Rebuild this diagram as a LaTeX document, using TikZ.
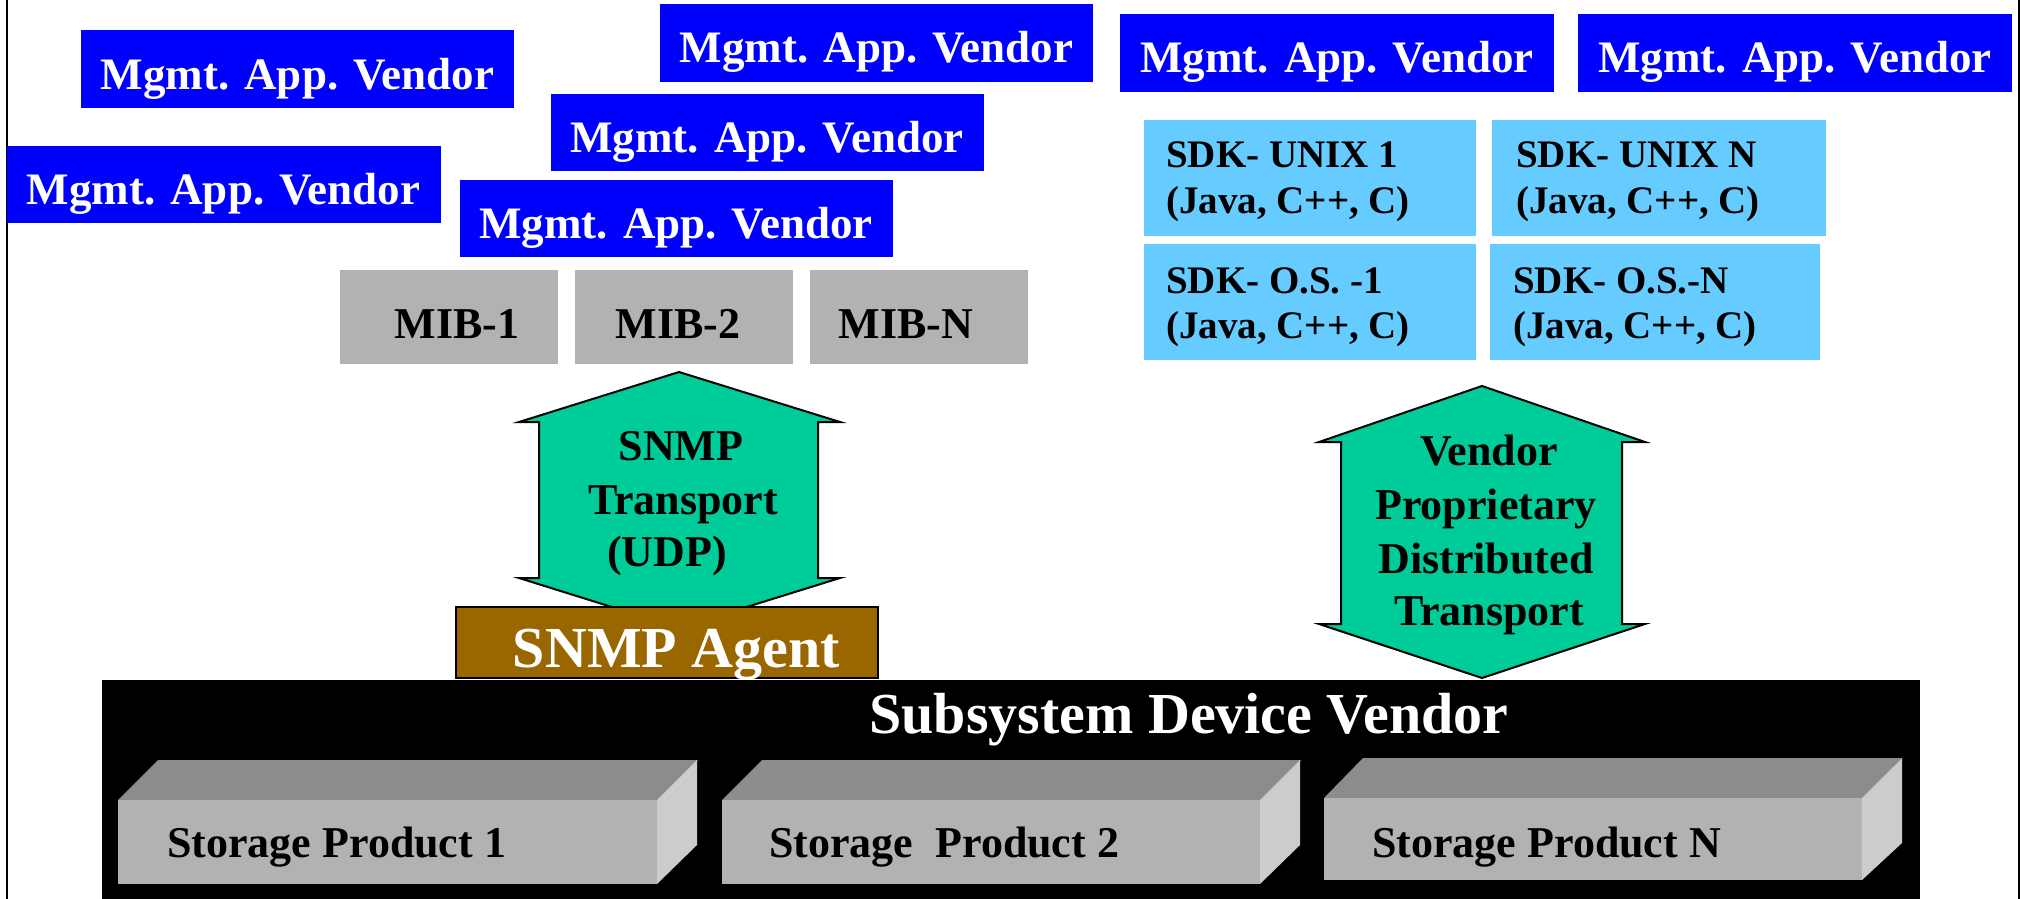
\documentclass[tikz,border=0pt]{standalone}
\usepackage{fontspec}
\setmainfont{Liberation Serif}
\definecolor{mablue}{HTML}{0000FF}
\definecolor{sdkblue}{HTML}{66CCFF}
\definecolor{mibgray}{HTML}{B2B2B2}
\definecolor{topgray}{HTML}{8C8C8C}
\definecolor{sidegray}{HTML}{CCCCCC}
\definecolor{arrowgreen}{HTML}{00CC99}
\definecolor{agentbrown}{HTML}{996600}
\begin{document}
\begin{tikzpicture}[x=1pt,y=-1pt,
  mav/.style={fill=mablue, text=white, inner sep=0pt, minimum width=433pt, minimum height=77pt,
    font=\fontsize{45}{54}\selectfont\bfseries, text height=40pt, text depth=0pt},
  mib/.style={fill=mibgray, text=black, inner sep=0pt, minimum width=218pt, minimum height=94pt,
    font=\fontsize{44}{52}\selectfont\bfseries, text height=42pt, text depth=0pt},
  sdk/.style={fill=sdkblue, inner sep=0pt, minimum height=116pt},
  sdktext/.style={anchor=base west, inner sep=0pt, font=\fontsize{39}{46}\selectfont\bfseries},
  arrowtext/.style={anchor=base, inner sep=0pt, font=\fontsize{44}{52}\selectfont\bfseries},
  bigtext/.style={anchor=base, inner sep=0pt, text=white, font=\fontsize{58}{68}\selectfont\bfseries},
  prodtext/.style={anchor=base west, inner sep=0pt, font=\fontsize{44}{52}\selectfont\bfseries},
  dblarrow/.style={fill=arrowgreen, draw=black, line width=2pt, line join=miter},
  border/.style={draw=black, line width=2pt}
]
\useasboundingbox (0,0) rectangle (2021,899);
\fill[white] (0,0) rectangle (2021,899);

% page borders
\coordinate (bl1) at (6.5,0);
\coordinate (bl2) at (6.5,899);
\coordinate (br1) at (2018.5,0);
\coordinate (br2) at (2018.5,899);
\draw[border] (bl1) -- (bl2);
\draw[border] (br1) -- (br2);

% management application vendor boxes
\node[mav] (mavA) at (297.5,69) {Mgmt. App. Vendor};
\node[mav] (mavB) at (876.5,43) {Mgmt. App. Vendor};
\node[mav] (mavC) at (767,132) {Mgmt. App. Vendor};
\node[mav, minimum width=434pt] (mavD) at (223.5,184) {Mgmt. App. Vendor};
\node[mav] (mavE) at (676,218) {Mgmt. App. Vendor};
\node[mav, minimum width=434pt, minimum height=78pt] (mavF) at (1337,53) {Mgmt. App. Vendor};
\node[mav, minimum width=434pt, minimum height=78pt] (mavG) at (1795,53) {Mgmt. App. Vendor};

% MIB boxes
\node[mib] (mib1) at (449,317) {\hspace*{16pt}MIB-1};
\node[mib] (mib2) at (684,317) {MIB-2\hspace*{12pt}};
\node[mib] (mibN) at (919,317) {MIB-N\hspace*{26pt}};

% SDK boxes
\node[sdk, minimum width=332pt] (sdkU1) at (1310,178) {};
\node[sdk, minimum width=334pt] (sdkUN) at (1659,178) {};
\node[sdk, minimum width=332pt] (sdkO1) at (1310,302) {};
\node[sdk, minimum width=330pt] (sdkON) at (1655,302) {};
\node[sdktext] (tU1a) at (1166,167) {SDK- UNIX 1};
\node[sdktext] (tU1b) at (1166,213) {(Java, C++, C)};
\node[sdktext] (tUNa) at (1516,167) {SDK- UNIX N};
\node[sdktext] (tUNb) at (1516,213) {(Java, C++, C)};
\node[sdktext] (tO1a) at (1166,293) {SDK- O.S. -1};
\node[sdktext] (tO1b) at (1166,338) {(Java, C++, C)};
\node[sdktext] (tONa) at (1513,293) {SDK- O.S.-N};
\node[sdktext] (tONb) at (1513,338) {(Java, C++, C)};

% SNMP transport double arrow
\draw[dblarrow] (679,372) -- (840,422) -- (818,422) -- (818,578) -- (840,578) -- (679,628)
  -- (519,578) -- (539,578) -- (539,422) -- (519,422) -- cycle;
\node[arrowtext] (snmp1) at (681,460) {SNMP};
\node[arrowtext] (snmp2) at (683,514) {Transport};
\node[arrowtext] (snmp3) at (667,566) {(UDP)};

% Vendor proprietary double arrow
\draw[dblarrow] (1482,386) -- (1645,442) -- (1622,442) -- (1622,624) -- (1645,624) -- (1482,678)
  -- (1319,624) -- (1341,624) -- (1341,442) -- (1319,442) -- cycle;
\node[arrowtext] (vp1) at (1489,465) {Vendor};
\node[arrowtext] (vp2) at (1486,519) {Proprietary};
\node[arrowtext] (vp3) at (1486,573) {Distributed};
\node[arrowtext] (vp4) at (1489,625) {Transport};

% Subsystem device vendor
\fill[black] (102,680) rectangle (1920,899);
\node[bigtext] (sdv) at (1189,733) {Subsystem Device Vendor};

% SNMP agent
\draw[fill=agentbrown, draw=black, line width=2pt] (456,607) rectangle (878,678);
\node[bigtext] (agent) at (676.5,667) {SNMP Agent};

% storage products (3D boxes)
% product 1
\fill[topgray] (118,800) -- (658,800) -- (698,760) -- (158,760) -- cycle;
\fill[sidegray] (657,800) -- (697,760) -- (697,845) -- (657,884) -- cycle;
\fill[mibgray] (118,800) rectangle (657,884);
\node[prodtext] (sp1) at (167,857) {Storage Product 1};
% product 2
\fill[topgray] (722,800) -- (1261,800) -- (1301,760) -- (762,760) -- cycle;
\fill[sidegray] (1260,800) -- (1300,760) -- (1300,845) -- (1260,884) -- cycle;
\fill[mibgray] (722,800) rectangle (1260,884);
\node[prodtext] (sp2) at (769,857) {Storage~ Product 2};
% product N
\fill[topgray] (1324,798) -- (1863,798) -- (1902,758) -- (1363,758) -- cycle;
\fill[sidegray] (1862,798) -- (1902,758) -- (1902,843) -- (1862,880) -- cycle;
\fill[mibgray] (1324,798) rectangle (1862,880);
\node[prodtext] (spN) at (1372,857) {Storage Product N};
\end{tikzpicture}
\end{document}
